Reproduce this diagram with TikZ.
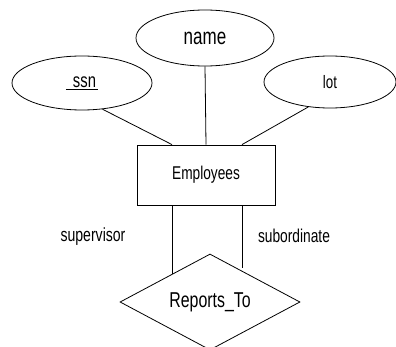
\documentclass[tikz,border=0pt]{standalone}
\usepackage{fontspec}
\setmainfont{Liberation Sans}[FakeStretch=0.74]
\usetikzlibrary{shapes.geometric}
\begin{document}
\begin{tikzpicture}[x=1pt,y=-1pt,
  conn/.style={line width=0.8pt},
  attr/.style={draw,line width=0.8pt,ellipse,inner sep=0pt},
  entity/.style={draw,line width=0.8pt,rectangle,inner sep=0pt,minimum width=138pt,minimum height=60pt},
  rel/.style={draw,line width=0.8pt,diamond,inner sep=0pt,minimum width=180pt,minimum height=96pt,aspect=1.875},
  lbl/.style={inner sep=0pt}]
\useasboundingbox (0,0) rectangle (396,347);
\node[attr,minimum width=138pt,minimum height=56pt,font=\fontsize{23}{25}\selectfont] (name) at (205,38) {name\hspace{3pt}};
\node[attr,minimum width=140pt,minimum height=54pt,font=\fontsize{20}{22}\selectfont] (ssn) at (82,83) {\underline{\hspace{7pt}ssn\hspace{2pt}}\hspace{8pt}};
\node[attr,minimum width=132pt,minimum height=52pt,font=\fontsize{18}{20}\selectfont] (lot) at (330,82) {lot};
\node[entity,font=\fontsize{18.5}{20}\selectfont] (emp) at (206,175) {Employees\hspace{10pt}};
\node[rel,font=\fontsize{21.5}{24}\selectfont] (rep) at (210,302) {Reports\_To};
\node[lbl,font=\fontsize{19}{20}\selectfont] (sup) at (93,237) {supervisor};
\node[lbl,font=\fontsize{18.6}{20}\selectfont] (sub) at (294,236) {subordinate};
\coordinate (supEnd) at (172,274);
\coordinate (subEnd) at (242,268);
\draw[conn] (ssn.-52) -- ([xshift=-34pt]emp.north);
\draw[conn] (name.south) -- (emp.north);
\draw[conn] (lot.-131) -- ([xshift=36pt]emp.north);
\draw[conn] (emp.south -| supEnd) -- (supEnd);
\draw[conn] (emp.south -| subEnd) -- (subEnd);
\end{tikzpicture}
\end{document}
